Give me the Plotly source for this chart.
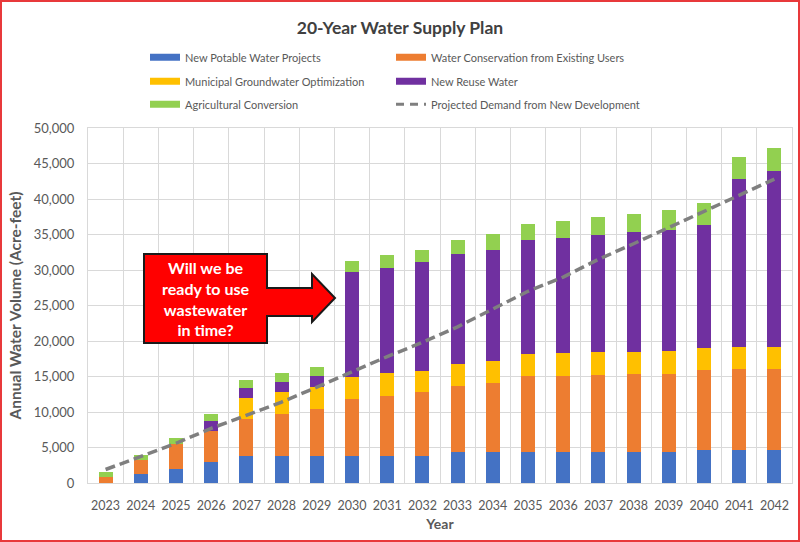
import plotly.graph_objects as go

years = [str(y) for y in range(2023, 2043)]

potable = [0, 1300, 2000, 2900, 3750, 3750, 3750, 3750, 3750, 3750,
           4300, 4300, 4300, 4300, 4300, 4300, 4300, 4650, 4650, 4650]
conservation = [900, 1900, 3500, 4370, 5260, 6010, 6710, 8100, 8550, 9070,
                9400, 9780, 10810, 10810, 10950, 11090, 11090, 11210, 11410, 11410]
groundwater = [0, 0, 0, 0, 2960, 3060, 3100, 3150, 3140, 3000,
               3100, 3050, 3060, 3140, 3150, 3100, 3200, 3150, 3040, 3040]
reuse = [0, 0, 0, 1400, 1410, 1350, 1450, 14660, 14840, 15310,
         15450, 15730, 16000, 16260, 16470, 16810, 17090, 17370, 23720, 24790]
agricultural = [600, 800, 850, 1080, 1170, 1320, 1330, 1550, 1780, 1730,
                1970, 2210, 2310, 2340, 2590, 2630, 2810, 3000, 3100, 3290]
demand = [1900, 3700, 5600, 7700, 9600, 11400, 13500, 15700, 17800, 19800,
          22000, 24500, 27000, 29000, 31500, 33700, 36000, 38200, 40500, 42800]

series_names = ["New Potable Water Projects", "Water Conservation from Existing Users",
                "Municipal Groundwater Optimization", "New Reuse Water",
                "Agricultural Conversion"]
series_values = [potable, conservation, groundwater, reuse, agricultural]
series_colors = ["#4472C4", "#ED7D31", "#FFC000", "#7030A0", "#92D050"]
demand_name = "Projected Demand from New Development"
demand_color = "#7F7F7F"

W, H = 800, 542
L, R, T, B = 88, 8, 128, 59
PW, PH = W - L - R, H - T - B
FONT = "Lato, 'Open Sans', sans-serif"


def px(x):
    return (x - L) / PW


def py(y):
    return (H - B - y) / PH


fig = go.Figure()
for name, vals, col in zip(series_names, series_values, series_colors):
    fig.add_trace(go.Bar(x=years, y=vals, name=name, marker_color=col,
                         marker_line_width=0, showlegend=False, legendgroup=name))

fig.add_trace(go.Scatter(x=years, y=demand, mode="lines", name=demand_name,
                         line=dict(color=demand_color, width=3.5, dash="10px,5px"),
                         showlegend=False, legendgroup=demand_name))

# legend entries (wide swatches), one legend box per entry (2 columns x 3 rows)
legend_ids = ["legend", "legend2", "legend3", "legend4", "legend5", "legend6"]
for i in range(5):
    fig.add_trace(go.Scatter(x=[None], y=[None], mode="lines", name=series_names[i],
                             line=dict(color=series_colors[i], width=7),
                             legendgroup=series_names[i], showlegend=True,
                             legend=legend_ids[i]))
fig.add_trace(go.Scatter(x=[None], y=[None], mode="lines", name=demand_name,
                         line=dict(color=demand_color, width=3, dash="8px,6px"),
                         legendgroup=demand_name, showlegend=True, legend=legend_ids[5]))

# callout arrow shape
pts = [(144, 254), (267, 254), (267, 288), (312, 288), (312, 274), (335, 298),
       (312, 322), (312, 316), (267, 316), (267, 343), (144, 343)]
path = "M " + " L ".join(f"{px(x):.5f},{py(y):.5f}" for x, y in pts) + " Z"
fig.add_shape(type="path", path=path, xref="paper", yref="paper",
              fillcolor="#FF0000", line=dict(color="#1A1A1A", width=2), layer="above")

fig.add_annotation(x=px(205.5), y=py(298.5), xref="paper", yref="paper",
                   text="<b>Will we be<br>ready to use<br>wastewater<br>in time?</b>",
                   showarrow=False, font=dict(family=FONT, size=16, color="white"),
                   xanchor="center", yanchor="middle", align="center")

# outer red frame
fig.add_shape(type="rect", xref="paper", yref="paper",
              x0=px(1), x1=px(799), y0=py(541), y1=py(1),
              line=dict(color="#E8393B", width=2), fillcolor="rgba(0,0,0,0)", layer="above")

leg_common = dict(orientation="h", xref="container", yref="container",
                  xanchor="left", yanchor="middle",
                  font=dict(family=FONT, size=11, color="#595959"),
                  itemwidth=30, bgcolor="rgba(0,0,0,0)")
col_x = [145, 391]
row_y = [57.3, 81.3, 104.3]
legend_layout = {}
for k, lid in enumerate(legend_ids):
    legend_layout[lid] = dict(leg_common, x=col_x[k % 2] / W, y=1 - row_y[k // 2] / H)

fig.update_layout(
    width=W, height=H,
    margin=dict(l=L, r=R, t=T, b=B, autoexpand=False),
    paper_bgcolor="white", plot_bgcolor="white",
    barmode="stack", bargap=0.6,
    font=dict(family=FONT, color="#595959", size=13),
    title=dict(text="<b>20-Year Water Supply Plan</b>", x=0.5, xanchor="center",
               xref="container", yref="container", y=1 - 28 / H, yanchor="middle",
               font=dict(family=FONT, size=17.5, color="#404040")),
    **legend_layout,
    xaxis=dict(type="category", tickson="boundaries", showgrid=True,
               gridcolor="#D9D9D9", gridwidth=1, ticks="", showline=True,
               linecolor="#D9D9D9", mirror=True, tickangle=0, automargin=False,
               ticklabelstandoff=11,
               tickfont=dict(size=12.5, color="#595959"),
               title=dict(text="<b>Year</b>", font=dict(size=14, color="#595959"),
                          standoff=7)),
    yaxis=dict(range=[0, 50000], dtick=5000, tickformat=",", showgrid=True,
               gridcolor="#D9D9D9", gridwidth=1, zeroline=False, ticks="",
               showline=True, linecolor="#D9D9D9", mirror=True, automargin=False,
               ticklabelstandoff=10,
               tickfont=dict(size=13, color="#595959"),
               title=dict(text="<b>Annual Water Volume (Acre-feet)</b>",
                          font=dict(size=15.5, color="#595959"), standoff=8)),
)

fig.write_html("out.html", post_script="document.body.style.margin='0';",
               config={"displayModeBar": False})
